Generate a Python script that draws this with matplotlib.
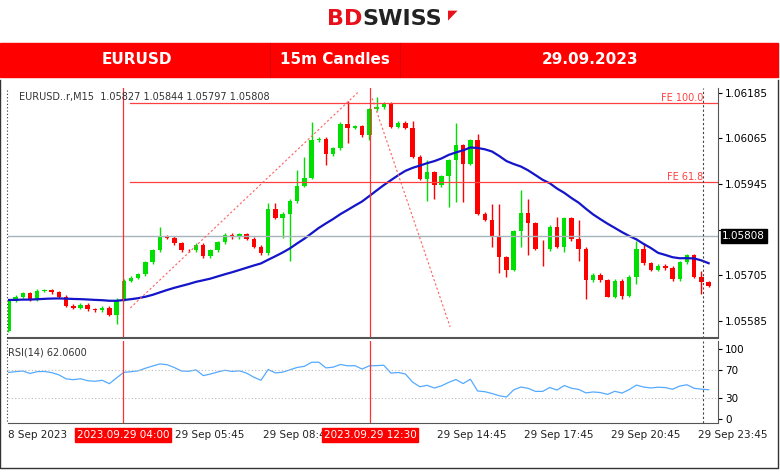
import matplotlib
matplotlib.use("Agg")
import matplotlib.pyplot as plt
import numpy as np
import pandas as pd

closes = [1.05638,1.05648,1.05657,1.05642,1.05664,1.05666,1.05660,1.05648,1.05625,1.05620,
          1.05627,1.05616,1.05613,1.05619,1.05601,1.05640,1.05691,1.05698,1.05708,1.05739,
          1.05771,1.05807,1.05803,1.05789,1.05771,1.05770,1.05785,1.05755,1.05770,1.05792,
          1.05811,1.05805,1.05812,1.05801,1.05780,1.05763,1.05879,1.05856,1.05866,1.05900,
          1.05940,1.05961,1.06060,1.06064,1.06023,1.06039,1.06103,1.06093,1.06097,1.06073,
          1.06141,1.06146,1.06155,1.06095,1.06105,1.06093,1.06016,1.05959,1.05976,1.05941,
          1.05965,1.06007,1.06046,1.05998,1.06061,1.05866,1.05851,1.05809,1.05752,1.05719,
          1.05821,1.05868,1.05842,1.05774,1.05773,1.05833,1.05780,1.05855,1.05800,1.05774,
          1.05692,1.05706,1.05692,1.05648,1.05691,1.05651,1.05701,1.05774,1.05736,1.05719,
          1.05730,1.05724,1.05695,1.05739,1.05757,1.05701,1.05686,1.05677]
first_open = 1.05559
high_override = {22:1.05831,37:1.05895,38:1.05895,41:1.05981,42:1.06016,43:1.06108,48:1.06163,
                 52:1.06174,57:1.06111,59:1.06007,63:1.06104,65:1.06064,66:1.06076,68:1.05893,
                 69:1.05893,72:1.05930,73:1.05906,75:1.05798,77:1.05858,80:1.05849,88:1.05796,
                 89:1.05790,97:1.05717}
low_override = {16:1.05576,39:1.05803,40:1.05743,45:1.05994,48:1.06053,51:1.06060,59:1.05900,
                60:1.05906,62:1.05884,63:1.05897,64:1.05897,68:1.05778,69:1.05712,70:1.05699,
                72:1.05778,73:1.05757,75:1.05730,78:1.05765,80:1.05743,81:1.05642,84:1.05647,
                86:1.05642,87:1.05647,88:1.05682,97:1.05655}
wick = 0.00004
ma_seed = 1.05640
fe100, fe618, last_price = 1.06157, 1.05949, 1.05808
price_ticks = [1.06185, 1.06065, 1.05945, 1.05825, 1.05705, 1.05585]
time_labels = ["29 Sep 05:45", "29 Sep 08:4", "29 Sep 14:45", "29 Sep 17:45", "29 Sep 20:45", "29 Sep 23:45"]
time_px = [175, 263, 437, 524, 611, 698]

n = len(closes)
opens = [first_open] + closes[:-1]
highs = [high_override.get(i+1, max(o, c) + wick) for i, (o, c) in enumerate(zip(opens, closes))]
lows = [low_override.get(i+1, min(o, c) - wick) for i, (o, c) in enumerate(zip(opens, closes))]
s = pd.Series(closes)
P = 26
ma = pd.concat([pd.Series([ma_seed]*P), s]).rolling(P, min_periods=1).mean().values[P:]
# RSI (Wilder) with seeded averages
c = np.array([first_open] + closes)
dd = np.diff(c)
au, ad = 0.00010, 0.00008
rsi = []
for v in dd:
    au = (au*13 + max(v, 0))/14
    ad = (ad*13 + max(-v, 0))/14
    rsi.append(100 - 100/(1 + au/ad))

W, H = 780, 472
fig = plt.figure(figsize=(W/100, H/100), dpi=100)
def ax_px(x0, y0, x1, y1, **kw):
    return fig.add_axes([x0/W, 1-y1/H, (x1-x0)/W, (y1-y0)/H], **kw)

# header
hd = ax_px(0, 0, W, 80); hd.set_xlim(0, W); hd.set_ylim(80, 0); hd.axis("off")
hd.text(362, 19, "BD", color="#e8101a", fontsize=16, fontweight="bold", ha="right", va="center")
hd.text(362, 19, "SWISS", color="#222222", fontsize=16, fontweight="bold", ha="left", va="center")
hd.text(448, 15, "◤", color="#e8101a", fontsize=9, ha="left", va="center")
hd.add_patch(plt.Rectangle((0, 43), 778, 34, color="#ff0000"))
for xs in [270, 400]:
    hd.plot([xs, xs], [43, 77], color="#dd0000", lw=0.8)
hd.text(137, 60, "EURUSD", color="white", fontsize=11, fontweight="bold", ha="center", va="center")
hd.text(335, 60, "15m Candles", color="white", fontsize=11, fontweight="bold", ha="center", va="center")
hd.text(590, 60, "29.09.2023", color="white", fontsize=11, fontweight="bold", ha="center", va="center")

# main price axes
x0p, x1p = 8, 718
spacing = 7.22
xl = (-(8.3 - x0p)/spacing, (x1p - 8.3)/spacing)
ax = ax_px(x0p, 88, x1p, 338)
x = np.arange(n)
ax.set_xlim(*xl); ax.set_ylim(1.05540, 1.06197)
cols = ["#00e000" if c2 >= o else "#ff0000" for o, c2 in zip(opens, closes)]
ax.vlines(x, lows, highs, colors=cols, lw=1)
bot = np.minimum(opens, closes); ht = np.maximum(np.abs(np.array(closes)-np.array(opens)), 0.000012)
ax.bar(x, ht, bottom=bot, width=0.62, color=cols, lw=0)
ax.plot(x, ma, color="#1414c8", lw=1.6)
ax.axhline(last_price, color="#a8b4bc", lw=1)
ax.plot([16.9, xl[1]], [fe100, fe100], color="#ff4040", lw=0.9)
ax.plot([16.9, xl[1]], [fe618, fe618], color="#ff4040", lw=0.9)
ax.text(96.3, fe100, "FE 100.0", color="#ff4040", fontsize=7, ha="right", va="bottom")
ax.text(96.3, fe618, "FE 61.8", color="#ff4040", fontsize=7, ha="right", va="bottom")
ax.plot([16.9, 48.4], [1.05619, 1.06185], color="#ff6060", lw=0.8, ls=(0, (2, 2)))
ax.plot([50.4, 61.2], [1.06170, 1.05569], color="#ff6060", lw=0.8, ls=(0, (2, 2)))
for xv in [15.9, 50.1]:
    ax.axvline(xv, color="#ff3030", lw=0.9)
ax.axvline(96.2, color="#444444", lw=0.8, ls=(0, (2, 2)))
ax.set_xticks([]); ax.yaxis.tick_right(); ax.set_yticks(price_ticks)
ax.set_yticklabels([f"{p:.5f}" if p != 1.05825 else "" for p in price_ticks], fontsize=7.5)
ax.tick_params(axis="y", length=3, pad=2)
ax.annotate(f"{last_price:.5f}", xy=(1, last_price), xycoords=("axes fraction", "data"),
            xytext=(3, 0), textcoords="offset points", fontsize=7.5, color="white", va="center",
            bbox=dict(boxstyle="square,pad=0.15", fc="black", ec="black"))
ax.text(0.015, 0.985, "EURUSD..r,M15  1.05827 1.05844 1.05797 1.05808", transform=ax.transAxes,
        fontsize=7, color="#333333", va="top")
for sp in ["top", "left"]:
    ax.spines[sp].set_visible(False)
ax.spines["right"].set_color("#555555"); ax.spines["bottom"].set_color("#555555")
ax.spines["bottom"].set_linewidth(1.5)

# RSI axes
ar = ax_px(x0p, 341, x1p, 423)
ar.set_xlim(*xl); ar.set_ylim(-6, 112)
ar.plot(x, rsi, color="#55aaff", lw=0.9)
for lv in [70, 30]:
    ar.axhline(lv, color="#bbbbbb", lw=0.8, ls=(0, (1, 2)))
for xv in [15.9, 50.1]:
    ar.axvline(xv, color="#ff3030", lw=0.9)
ar.axvline(96.2, color="#444444", lw=0.8, ls=(0, (2, 2)))
ar.set_xticks([]); ar.yaxis.tick_right(); ar.set_yticks([100, 70, 30, 0])
ar.tick_params(axis="y", labelsize=7.5, length=3, pad=2)
ar.text(0.0, 0.92, "RSI(14) 62.0600", transform=ar.transAxes, fontsize=7, color="#333333", va="top")
for sp in ["top", "left"]:
    ar.spines[sp].set_visible(False)
ar.spines["right"].set_color("#555555"); ar.spines["bottom"].set_color("#555555")

# time axis labels
fig.text(8/W, 1-435/H, "8 Sep 2023", fontsize=7.5, va="center", color="#222222")
for t, px in zip(time_labels, time_px):
    fig.text(px/W, 1-435/H, t, fontsize=7.5, va="center", color="#222222")
for t, px in [("2023.09.29 04:00", 123), ("2023.09.29 12:30", 370)]:
    fig.text(px/W, 1-435/H, t, fontsize=7.5, va="center", ha="center", color="white",
             bbox=dict(boxstyle="square,pad=0.15", fc="#ff0000", ec="#ff0000"))
# frame
fr = ax_px(0, 0, W, H); fr.set_xlim(0, W); fr.set_ylim(H, 0); fr.axis("off"); fr.patch.set_alpha(0)
fr.plot([0, 0, 778, 778], [80, 468, 468, 80], color="#333333", lw=1)
fr.plot([7, 7], [90, 423], color="#333333", lw=0.8, ls=(0, (1, 2)))
fig.savefig("out.png", dpi=100)
